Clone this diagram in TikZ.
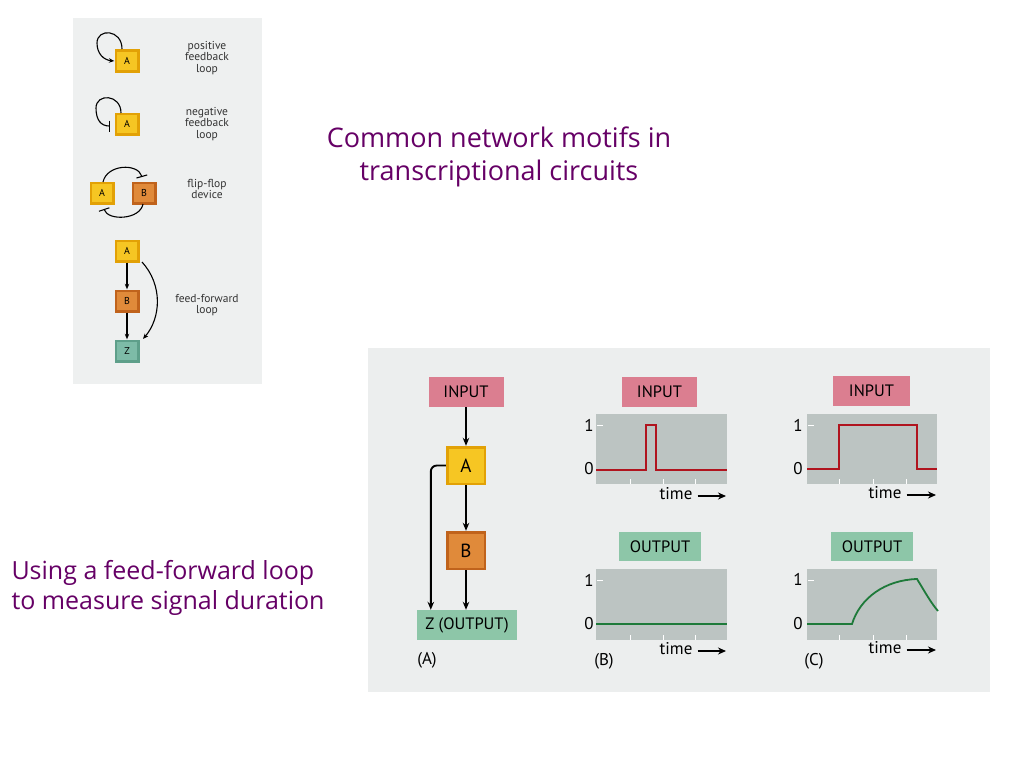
\documentclass[tikz,border=0pt]{standalone}
\usepackage{fontspec}
\setmainfont{PT Sans}
\newfontfamily\titlefont{Open Sans}
\usetikzlibrary{arrows.meta,calc}
\definecolor{panelL}{HTML}{EEF0F0}
\definecolor{panelR}{HTML}{ECEEEE}
\definecolor{plotbg}{HTML}{BCC4C2}
\definecolor{pinkbox}{HTML}{DB7E90}
\definecolor{greenbox}{HTML}{8DC6A8}
\definecolor{zbox}{HTML}{7DBBA7}
\definecolor{zboxd}{HTML}{5E9F8A}
\definecolor{yelA}{HTML}{F6C623}
\definecolor{yelAd}{HTML}{E2A106}
\definecolor{orB}{HTML}{E08A3A}
\definecolor{orBd}{HTML}{C0631C}
\definecolor{redline}{HTML}{B0141E}
\definecolor{grnline}{HTML}{1E7A3A}
\definecolor{ttl}{HTML}{660066}
\definecolor{lbl}{HTML}{333333}
\tikzset{
  x=1pt, y=-1pt,
  bevel/.style n args={2}{fill=#2, inner sep=0pt,
    path picture={\fill[#1] ([shift={(2.5pt,-2.5pt)}]path picture bounding box.north west) rectangle ([shift={(-2.5pt,2.5pt)}]path picture bounding box.south east);}},
  smallbox/.style={minimum width=25pt, minimum height=23pt, font=\fontsize{10}{11}\selectfont},
  bigbox/.style={minimum width=40pt, minimum height=39pt, font=\fontsize{19}{21}\selectfont},
  flatbox/.style={inner sep=0pt, font=\fontsize{16.5}{18}\selectfont},
  motif/.style={align=center, text=lbl, font=\fontsize{11.5}{11.5}\selectfont},
  sarr/.style={-{Stealth[length=5.5pt,width=4.5pt]}, line width=1.1pt},
  barr/.style={-{Bar[width=11pt]}, line width=1.1pt},
  farr/.style={-{Stealth[length=8pt,width=6.5pt]}, line width=1.9pt},
  tarr/.style={-{Stealth[length=8pt,width=7pt]}, line width=1.8pt},
  axl/.style={font=\fontsize{17}{19}\selectfont, inner sep=0pt},
  tick/.style={white, line width=0.8pt},
}
\begin{document}
\begin{tikzpicture}
\useasboundingbox (0,0) rectangle (1024,768);
\fill[white] (0,0) rectangle (1024,768);
% ---------- left panel ----------
\fill[panelL] (73,18) rectangle (262,384);
% positive feedback
\node[smallbox, bevel={yelA}{yelAd}] (pA) at (127,61) {A};
\draw[sarr] (122,49) .. controls (122,29) and (97,28) .. (97,43) .. controls (97,54) and (104,60) .. (pA.west);
\node[motif] (pt) at (207,58) {positive\\feedback\\loop};
% negative feedback
\node[smallbox, bevel={yelA}{yelAd}] (nA) at (127,124) {A};
\draw[barr] (121,113) .. controls (121,94) and (96,93) .. (96,108) .. controls (96,120) and (101,126) .. (110,126);
\node[motif] (nt) at (207,124) {negative\\feedback\\loop};
% flip-flop
\node[smallbox, bevel={yelA}{yelAd}] (fA) at (102,193) {A};
\node[smallbox, bevel={orB}{orBd}] (fB) at (144,193) {B};
\draw[barr] (103,182) .. controls (107,164) and (138,163) .. (142,177);
\draw[barr] (143,204) .. controls (140,220) and (108,221) .. (104,209);
\node[motif] (ft) at (207,189) {flip-flop\\device};
% feed-forward
\node[smallbox, bevel={yelA}{yelAd}] (gA) at (127,251) {A};
\node[smallbox, bevel={orB}{orBd}] (gB) at (127,301) {B};
\node[smallbox, bevel={zbox}{zboxd}] (gZ) at (127,351) {Z};
\draw[sarr] (gA) -- (gB);
\draw[sarr] (gB) -- (gZ);
\draw[sarr] (142,262) .. controls (163,285) and (161,318) .. (143,339);
\node[motif] (gt) at (207,305) {feed-forward\\loop};
% ---------- titles ----------
\node[text=ttl, font=\titlefont\fontsize{27}{33}\selectfont, align=center] (title) at (499,157) {Common network motifs in\\ transcriptional circuits};
\node[text=ttl, font=\titlefont\fontsize{25}{30}\selectfont, align=left, anchor=west] (sub) at (8,588) {Using a feed-forward loop\\to measure signal duration};
% ---------- right panel ----------
\fill[panelR] (368,348) rectangle (990,692);
% (A) network
\node[flatbox, fill=pinkbox, minimum width=75pt, minimum height=30pt] (in) at (466,392) {INPUT};
\node[bigbox, bevel={yelA}{yelAd}] (rA) at (466,465.5) {A};
\node[bigbox, bevel={orB}{orBd}] (rB) at (466,550.5) {B};
\node[flatbox, fill=greenbox, minimum width=100pt, minimum height=30pt] (rZ) at (467,625) {Z (OUTPUT)};
\draw[farr] (in) -- (rA);
\draw[farr] (rA) -- (rB);
\draw[farr] (rB) -- (rB |- rZ.north);
\draw[farr, rounded corners=6pt] (rA.west) -| ($(rZ.north west)+(14,0)$);
\node[axl] (labA) at (427,660) {(A)};
% (B) plots
\node[flatbox, fill=pinkbox, minimum width=75pt, minimum height=30pt] (inB) at (659.5,392) {INPUT};
\fill[plotbg] (596,414) rectangle (727,484);
\draw[tick] (597,425) -- (603,425);
\foreach \xx in {630,663,695} \draw[tick] (\xx,484) -- (\xx,479);
\draw[redline, line width=1.8pt] (596,470) -- (646,470) -- (646,425) -- (656,425) -- (656,470) -- (727,470);
\node[axl] (b1) at (589,425) {1};
\node[axl] (b0) at (589,469) {0};
\node[axl] (bt1) at (676,494) {time};
\coordinate (bt1e) at (726,496);
\draw[tarr] (bt1.east) ++(5,2) -- (bt1e);
\node[flatbox, fill=greenbox, minimum width=82pt, minimum height=29pt] (outB) at (660,546.5) {OUTPUT};
\fill[plotbg] (596,569) rectangle (727,640);
\draw[tick] (597,580) -- (603,580);
\foreach \xx in {630,663,695} \draw[tick] (\xx,640) -- (\xx,635);
\draw[grnline, line width=1.8pt] (596,624) -- (727,624);
\node[axl] (b1o) at (589,580) {1};
\node[axl] (b0o) at (589,624) {0};
\node[axl] (bt2) at (676,649) {time};
\coordinate (bt2e) at (726,651);
\draw[tarr] (bt2.east) ++(5,2) -- (bt2e);
\node[axl] (labB) at (604,661) {(B)};
% (C) plots
\node[flatbox, fill=pinkbox, minimum width=77pt, minimum height=30pt] (inC) at (871.5,391) {INPUT};
\fill[plotbg] (807,414) rectangle (937,484);
\draw[tick] (808,425) -- (814,425);
\foreach \xx in {839,873,906} \draw[tick] (\xx,484) -- (\xx,479);
\draw[redline, line width=1.8pt] (807,469) -- (839,469) -- (839,425) -- (917,425) -- (917,469) -- (937,469);
\node[axl] (c1) at (798,425) {1};
\node[axl] (c0) at (798,469) {0};
\node[axl] (ct1) at (885,493) {time};
\coordinate (ct1e) at (936,495);
\draw[tarr] (ct1.east) ++(5,2) -- (ct1e);
\node[flatbox, fill=greenbox, minimum width=82pt, minimum height=29pt] (outC) at (872,546.5) {OUTPUT};
\fill[plotbg] (807,569) rectangle (937,640);
\draw[tick] (808,580) -- (814,580);
\foreach \xx in {839,873,906} \draw[tick] (\xx,640) -- (\xx,635);
\draw[grnline, line width=1.8pt] (807,624) -- (852,624) .. controls (860,598) and (885,580) .. (917,579) .. controls (925,592) and (931,603) .. (938,611);
\node[axl] (c1o) at (798,579) {1};
\node[axl] (c0o) at (798,624) {0};
\node[axl] (ct2) at (885,648) {time};
\coordinate (ct2e) at (936,650);
\draw[tarr] (ct2.east) ++(5,2) -- (ct2e);
\node[axl] (labC) at (814,661) {(C)};
\end{tikzpicture}
\end{document}
